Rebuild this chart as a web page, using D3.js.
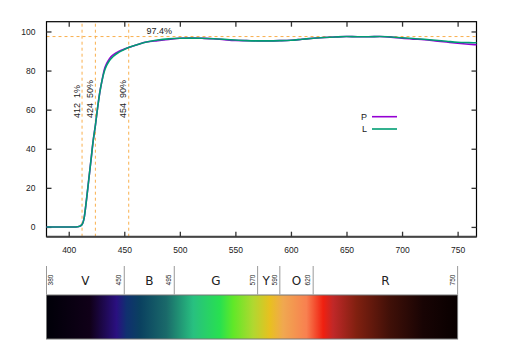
<!DOCTYPE html>
<html><head><meta charset="utf-8">
<script src="https://cdn.jsdelivr.net/npm/d3@7/dist/d3.min.js"></script>
<style>body{margin:0;background:#fff}svg{display:block}text{font-family:"Liberation Sans",Arial,sans-serif;fill:#222}</style>
</head><body><svg id="c" width="512" height="356"></svg>
<script>
const wavelengths = [380,390,400,405,408,410,412,414,416,418,420,422,424,426,428,430,432,434,436,438,440,445,450,455,460,465,470,480,490,500,510,520,530,540,550,560,570,580,590,600,610,620,630,640,650,660,670,680,690,700,710,720,730,740,750,760,767];
const seriesL = [0,0,0,0,0.1,0.4,1.2,5,14,24,34,44,52,61,69,75,79.5,82.5,84.5,86,87.2,89.3,90.8,92,93,93.9,94.6,95.6,96.2,96.5,96.6,96.5,96.3,96,95.6,95.3,95.2,95.2,95.3,95.5,96,96.5,96.9,97.2,97.4,97.3,97.3,97.4,97.2,96.8,96.4,96,95.5,95,94.5,94.3,94.2];
const seriesP = [0,0,0,0,0.1,0.4,1.2,5,14,24,34,44,52,61,69,75,80.5,83.5,85.5,87,88,89.8,91,92,93,93.9,94.6,95.3,95.9,96.5,96.6,96.5,96.3,95.8,95.4,95.3,95.2,95.2,95.3,95.5,96,96.5,96.9,97.2,97.4,97.3,97.3,97.4,97.1,96.5,96.1,95.8,95.2,94.6,94.0,93.5,93.2];
const seriesNames = ["P","L"];
const seriesColors = ["#9400D3","#009E73"];
const xTicks = [400,450,500,550,600,650,700,750];
const yTicks = [0,20,40,60,80,100];
const markers = [412,424,454];
const markerLabels = ["412  1%","424  50%","454  90%"];
const plateau = 97.4;
const plateauLabel = "97.4%";
const bandEdges = [380,450,495,570,590,620,750];
const bandNames = ["V","B","G","Y","O","R"];
const specWl =   [380,419,443,452,464,488,512,536,548,566,581,593,614,629,638,659,689,719,750];
const specCol =  ["#000008","#100018","#2a1080","#103070","#0a4060","#1a6a6a","#28c080","#28e050","#60e828","#b0d830","#e8c020","#f0a850","#f88050","#f02010","#c02828","#802010","#401008","#180404","#080000"];

const svg = d3.select("#c");
const x = d3.scaleLinear().domain([380,767]).range([46.5,476.5]);
const y = d3.scaleLinear().domain([-5,105]).range([236.7,21.7]);

// dashed guides
const g = svg.append("g");
markers.forEach(m=>{
  g.append("line").attr("x1",x(m)).attr("x2",x(m)).attr("y1",y(-5)).attr("y2",y(105))
   .attr("stroke","#f9b04e").attr("stroke-width",1).attr("stroke-dasharray","3,3");
});
g.append("line").attr("x1",x(380)).attr("x2",x(767)).attr("y1",y(plateau)).attr("y2",y(plateau))
 .attr("stroke","#f9b04e").attr("stroke-width",1).attr("stroke-dasharray","3,3");

// frame
svg.append("rect").attr("x",x(380)).attr("y",y(105)).attr("width",x(767)-x(380)).attr("height",y(-5)-y(105))
 .attr("fill","none").attr("stroke","#000").attr("stroke-width",1.2);
svg.append("line").attr("x1",x(380)).attr("x2",x(767)).attr("y1",y(-5)).attr("y2",y(-5)).attr("stroke","#444").attr("stroke-width",2);

// axes
const xb = svg.append("g").attr("transform",`translate(0,${y(-5)})`)
  .call(d3.axisBottom(x).tickValues(xTicks).tickSizeInner(-5).tickSizeOuter(0).tickPadding(10));
const xt = svg.append("g").attr("transform",`translate(0,${y(105)})`)
  .call(d3.axisTop(x).tickValues(xTicks).tickSizeInner(-5).tickSizeOuter(0).tickFormat(""));
const yl = svg.append("g").attr("transform",`translate(${x(380)},0)`)
  .call(d3.axisLeft(y).tickValues(yTicks).tickSizeInner(-5).tickSizeOuter(0).tickPadding(11));
const yr = svg.append("g").attr("transform",`translate(${x(767)},0)`)
  .call(d3.axisRight(y).tickValues(yTicks).tickSizeInner(-5).tickSizeOuter(0).tickFormat(""));
[xb,xt,yl,yr].forEach(a=>{a.select(".domain").remove();a.selectAll("line").attr("stroke","#333").attr("stroke-width",1.3);
  a.selectAll("text").attr("font-size","8.5px").attr("fill","#222").style("font-family","'Liberation Sans',Arial,sans-serif");});

// curves
const line = d3.line().x((d,i)=>x(wavelengths[i])).y(d=>y(d)).curve(d3.curveMonotoneX);
[seriesP,seriesL].forEach((s,k)=>{
  svg.append("path").attr("d",line(s)).attr("fill","none").attr("stroke",seriesColors[k]).attr("stroke-width",1.6);
});

// annotations
markers.forEach((m,i)=>{
  svg.append("text").attr("transform",`translate(${x(m)-2.5},118) rotate(-90)`)
    .attr("font-size","9px").attr("text-anchor","start").style("white-space","pre").text(markerLabels[i]);
});
svg.append("text").attr("x",146.5).attr("y",34).attr("font-size","9px").text(plateauLabel);

// legend
seriesNames.forEach((n,i)=>{
  const ly = 116.7 + i*12.3;
  svg.append("text").attr("x",367).attr("y",ly+3).attr("text-anchor","end").attr("font-size","9px").attr("fill","#333").text(n);
  svg.append("line").attr("x1",372).attr("x2",397).attr("y1",ly).attr("y2",ly).attr("stroke",seriesColors[i]).attr("stroke-width",1.6);
});

// spectrum
const defs = svg.append("defs");
const grad = defs.append("linearGradient").attr("id","spec").attr("x1","0").attr("x2","1").attr("y1","0").attr("y2","0");
specWl.forEach((w,i)=>grad.append("stop").attr("offset",(w-380)/370).attr("stop-color",specCol[i]));
svg.append("rect").attr("x",x(380)).attr("y",295).attr("width",x(750)-x(380)).attr("height",44)
  .attr("fill","url(#spec)").attr("stroke","#777").attr("stroke-width",1);
bandEdges.forEach((b,i)=>{
  svg.append("line").attr("x1",x(b)).attr("x2",x(b)).attr("y1",266).attr("y2",294.5).attr("stroke","#999").attr("stroke-width",1);
  const tx = i===0 ? x(b)+6.8 : x(b)-2.8;
  svg.append("text").attr("transform",`translate(${tx},280) rotate(-90)`).attr("text-anchor","middle")
    .attr("font-size","6.5px").text(b);
});
bandNames.forEach((n,i)=>{
  const mid = (bandEdges[i]+bandEdges[i+1])/2;
  svg.append("text").attr("x",x(mid) - (n==="Y"?2.5:0)).attr("y",284.5).attr("text-anchor","middle")
    .attr("font-size","12px").style("font-family","'DejaVu Sans',sans-serif").text(n);
});
</script></body></html>
